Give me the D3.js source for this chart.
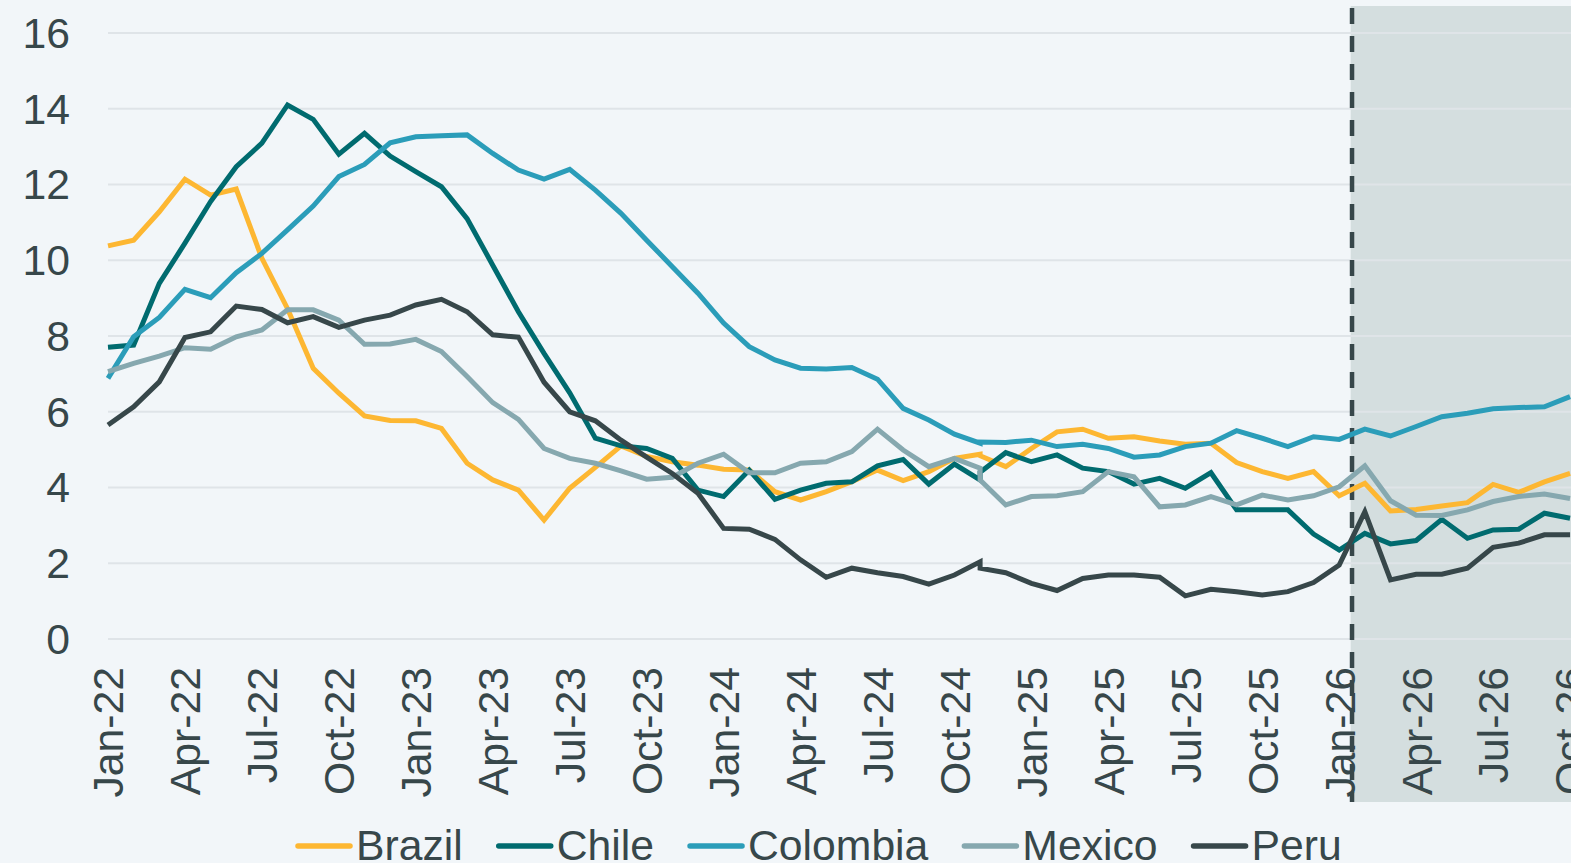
<!DOCTYPE html>
<html>
<head>
<meta charset="utf-8">
<script src="https://cdn.jsdelivr.net/npm/d3@7"></script>
<style>
  html, body { margin: 0; padding: 0; background: #F2F6F9; }
  svg { display: block; font-family: "Liberation Sans", Arial, sans-serif; }
</style>
</head>
<body>
<svg id="chart" width="1571" height="863"></svg>
<script>
// Month (YYYY-MM) of each data point; Dec-24 plotted at the same month as Nov-24 in the original chart
const dates = [
  "2022-01","2022-02","2022-03","2022-04","2022-05","2022-06","2022-07","2022-08","2022-09","2022-10","2022-11","2022-12",
  "2023-01","2023-02","2023-03","2023-04","2023-05","2023-06","2023-07","2023-08","2023-09","2023-10","2023-11","2023-12",
  "2024-01","2024-02","2024-03","2024-04","2024-05","2024-06","2024-07","2024-08","2024-09","2024-10","2024-11","2024-11",
  "2024-12","2025-01","2025-02","2025-03","2025-04","2025-05","2025-06","2025-07","2025-08","2025-09","2025-10","2025-11",
  "2025-12","2026-01","2026-02","2026-03","2026-04","2026-05","2026-06","2026-07","2026-08","2026-09","2026-10"
];

const brazil = [10.38,10.53,11.28,12.14,11.72,11.88,10.05,8.72,7.15,6.49,5.89,5.77,
  5.76,5.56,4.64,4.20,3.93,3.14,3.98,4.53,5.10,4.82,4.68,4.59,
  4.48,4.46,3.89,3.67,3.89,4.15,4.46,4.18,4.42,4.77,4.88,4.84,
  4.55,5.03,5.47,5.54,5.30,5.34,5.23,5.14,5.17,4.66,4.42,4.24,
  4.42,3.78,4.11,3.38,3.42,3.51,3.60,4.08,3.87,4.15,4.37];
const chile = [7.70,7.76,9.39,10.45,11.55,12.47,13.09,14.10,13.72,12.80,13.35,12.75,
  12.34,11.94,11.10,9.87,8.64,7.54,6.50,5.30,5.10,5.03,4.77,3.93,
  3.76,4.46,3.69,3.93,4.11,4.15,4.57,4.74,4.09,4.62,4.20,4.40,
  4.92,4.68,4.86,4.51,4.42,4.09,4.24,3.98,4.39,3.41,3.41,3.41,
  2.77,2.35,2.79,2.51,2.60,3.16,2.66,2.88,2.90,3.32,3.19];
const colombia = [6.88,7.98,8.49,9.23,9.01,9.67,10.18,10.80,11.43,12.21,12.53,13.10,
  13.26,13.29,13.31,12.82,12.38,12.14,12.40,11.85,11.24,10.53,9.83,9.13,
  8.34,7.72,7.37,7.15,7.13,7.17,6.86,6.09,5.78,5.41,5.17,5.20,
  5.19,5.25,5.08,5.14,5.03,4.80,4.86,5.08,5.17,5.50,5.30,5.08,
  5.34,5.27,5.54,5.36,5.61,5.87,5.96,6.08,6.11,6.13,6.40];
const mexico = [7.06,7.28,7.47,7.69,7.65,7.98,8.16,8.69,8.69,8.42,7.78,7.79,
  7.91,7.59,6.93,6.24,5.80,5.03,4.77,4.64,4.44,4.22,4.27,4.64,
  4.88,4.39,4.39,4.64,4.68,4.95,5.54,4.99,4.55,4.77,4.51,4.20,
  3.54,3.76,3.78,3.89,4.42,4.28,3.49,3.54,3.76,3.54,3.80,3.67,
  3.78,4.02,4.57,3.65,3.27,3.26,3.41,3.63,3.76,3.83,3.71];
const peru = [5.65,6.13,6.79,7.96,8.11,8.79,8.70,8.35,8.51,8.23,8.42,8.55,
  8.82,8.97,8.64,8.03,7.97,6.78,6.00,5.76,5.25,4.80,4.37,3.85,
  2.92,2.90,2.63,2.09,1.63,1.87,1.75,1.65,1.45,1.69,2.04,1.87,
  1.75,1.47,1.28,1.60,1.69,1.69,1.63,1.14,1.31,1.25,1.16,1.25,
  1.49,1.95,3.36,1.56,1.71,1.71,1.87,2.42,2.53,2.75,2.75];

const seriesNames = ["Brazil","Chile","Colombia","Mexico","Peru"];
const seriesValues = [brazil, chile, colombia, mexico, peru];
const seriesColors = ["#FDB732","#006B6F","#2B9DB9","#86A8AF","#37474A"];

const yTicks = [0,2,4,6,8,10,12,14,16];
const xTickLabels = ["Jan-22","Apr-22","Jul-22","Oct-22","Jan-23","Apr-23","Jul-23","Oct-23",
  "Jan-24","Apr-24","Jul-24","Oct-24","Jan-25","Apr-25","Jul-25","Oct-25","Jan-26","Apr-26","Jul-26","Oct-26"];
const xTickDates = ["2022-01","2022-04","2022-07","2022-10","2023-01","2023-04","2023-07","2023-10",
  "2024-01","2024-04","2024-07","2024-10","2025-01","2025-04","2025-07","2025-10","2026-01","2026-04","2026-07","2026-10"];
const forecastAfter = "2026-01"; // shaded projection starts after this month

const W = 1571, H = 863;
const svg = d3.select("#chart");
const textColor = "#37474A";
const fontSize = 42.7;

function monthIndex(s) {
  const [yy, mm] = s.split("-").map(Number);
  return (yy - 2022) * 12 + (mm - 1);
}

const x = d3.scaleLinear().domain([0, 57]).range([108, 1570.05]);
const y = d3.scaleLinear().domain([0, 16]).range([639, 33]);

svg.append("rect").attr("width", W).attr("height", H).attr("fill", "#F2F6F9");

// shaded forecast area
const xf = x(monthIndex(forecastAfter) + 0.5);
svg.append("rect")
  .attr("x", xf - 1.3).attr("y", 6)
  .attr("width", W - xf + 10).attr("height", 796)
  .attr("fill", "#D4DEDF");

// gridlines
svg.append("g").selectAll("line").data(yTicks).join("line")
  .attr("x1", 108).attr("x2", W + 5)
  .attr("y1", d => y(d)).attr("y2", d => y(d))
  .attr("stroke", "#DFE4E8").attr("stroke-width", 2);

// y labels
svg.append("g").selectAll("text").data(yTicks).join("text")
  .attr("x", 70).attr("y", d => y(d)).attr("dy", "0.35em")
  .attr("text-anchor", "end")
  .attr("font-size", fontSize).attr("fill", textColor)
  .text(d => d);

// x labels
svg.append("g").selectAll("text").data(xTickLabels).join("text")
  .attr("transform", (d, i) => `translate(${x(monthIndex(xTickDates[i]))},667) rotate(-90)`)
  .attr("dy", "0.36em")
  .attr("text-anchor", "end")
  .attr("font-size", fontSize).attr("fill", textColor)
  .text(d => d);

// dashed divider
svg.append("line")
  .attr("x1", xf).attr("x2", xf).attr("y1", 8).attr("y2", 802)
  .attr("stroke", "#37474A").attr("stroke-width", 4.5)
  .attr("stroke-dasharray", "16,12");

// series lines
const line = d3.line()
  .x((d, i) => x(monthIndex(dates[i])))
  .y(d => y(d));

svg.append("g").selectAll("path").data(seriesValues).join("path")
  .attr("d", d => line(d))
  .attr("fill", "none")
  .attr("stroke", (d, i) => seriesColors[i])
  .attr("stroke-width", 5)
  .attr("stroke-linejoin", "miter");

// legend
const lg = svg.append("g");
let lx = 296;
seriesNames.forEach((name, i) => {
  lg.append("line")
    .attr("x1", lx + 2).attr("x2", lx + 54)
    .attr("y1", 846).attr("y2", 846)
    .attr("stroke", seriesColors[i]).attr("stroke-width", 5.5)
    .attr("stroke-linecap", "round");
  const t = lg.append("text")
    .attr("x", lx + 60).attr("y", 860)
    .attr("font-size", fontSize).attr("fill", textColor)
    .text(name);
  lx += 60 + t.node().getComputedTextLength() + 34;
});
</script>
</body>
</html>
